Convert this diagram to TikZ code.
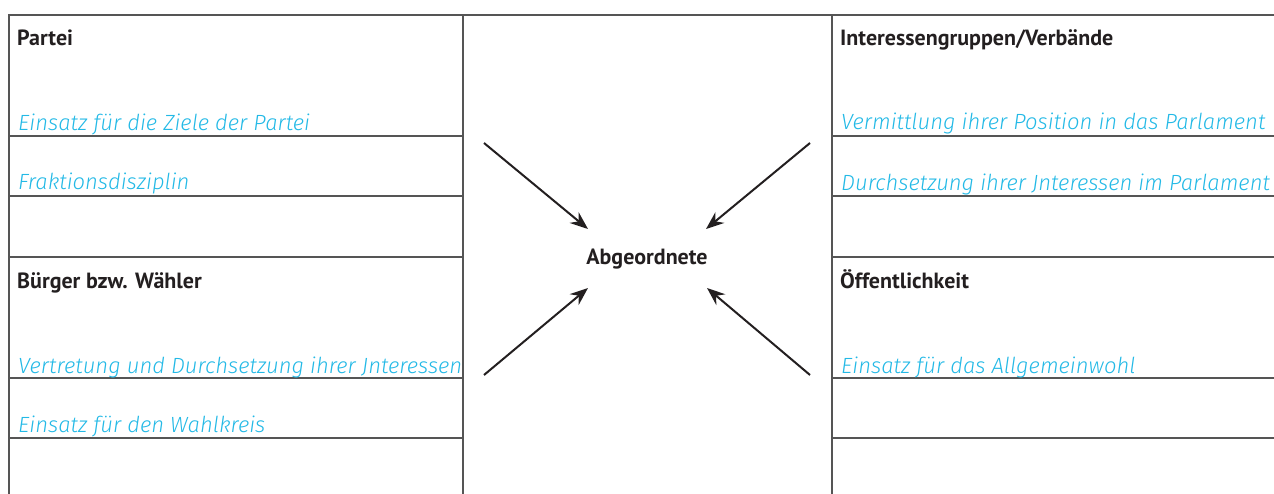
\documentclass[tikz,border=0pt]{standalone}
\usepackage{fontspec}
\setmainfont{PT Sans}
\IfFontExistsTF{Fira Sans Light}{\newfontfamily\hand{Fira Sans Light}}{\newfontfamily\hand{Fira Sans}}
\usetikzlibrary{arrows.meta}
\definecolor{hwc}{RGB}{35,185,230}
\definecolor{lnc}{RGB}{85,85,85}
\definecolor{txc}{RGB}{35,31,32}
\begin{document}
\begin{tikzpicture}[x=1pt,y=-1pt,
  head/.style={anchor=base west, inner sep=0pt, font=\bfseries\fontsize{22}{22}\selectfont, text=txc},
  hw/.style={anchor=base west, inner sep=0pt, font=\hand\itshape\fontsize{22}{22}\selectfont, text=hwc},
  gridline/.style={draw=lnc, line width=1.3pt},
  arr/.style={-{Stealth[length=18pt,width=14pt,inset=6pt]}, line width=2pt, draw=txc}]
\useasboundingbox (0,0) rectangle (1274,494);
% grid
\draw[gridline] (9,494) -- (9,15) -- (1274,15);
\draw[gridline] (463,15) -- (463,494);
\draw[gridline] (832,15) -- (832,494);
\foreach \yy in {136,196,257,378,438}{
  \draw[gridline] (9,\yy) -- (463,\yy);
  \draw[gridline] (832,\yy) -- (1274,\yy);
}
% headings
\node[head] (partei) at (17,46) {Partei};
\node[head] (buerger) at (17,288) {Bürger bzw. Wähler};
\node[head] (verb) at (840,46) {Interessengruppen/Verbände};
\node[head] (oeff) at (840,288) {Öffentlichkeit};
\node[head, anchor=base] (abg) at (647,265) {Abgeordnete};
% handwritten
\node[hw] (p1) at (18,131) {Einsatz für die Ziele der Partei};
\node[hw] (p2) at (18,190) {Fraktionsdisziplin};
\node[hw] (b1) at (18,373) {Vertretung und Durchsetzung ihrer Jnteressen};
\node[hw] (b2) at (18,432) {Einsatz für den Wahlkreis};
\node[hw] (v1) at (841,130) {Vermittlung ihrer Position in das Parlament};
\node[hw] (v2) at (841,191) {Durchsetzung ihrer Jnteressen im Parlament};
\node[hw] (o1) at (841,373) {Einsatz für das Allgemeinwohl};
% arrows
\coordinate (tls) at (484,143); \coordinate (tle) at (588,229);
\coordinate (trs) at (810,143); \coordinate (tre) at (706,229);
\coordinate (bls) at (484,375); \coordinate (ble) at (588,288);
\coordinate (brs) at (810,375); \coordinate (bre) at (707,288);
\draw[arr] (tls) -- (tle);
\draw[arr] (trs) -- (tre);
\draw[arr] (bls) -- (ble);
\draw[arr] (brs) -- (bre);
\end{tikzpicture}
\end{document}
